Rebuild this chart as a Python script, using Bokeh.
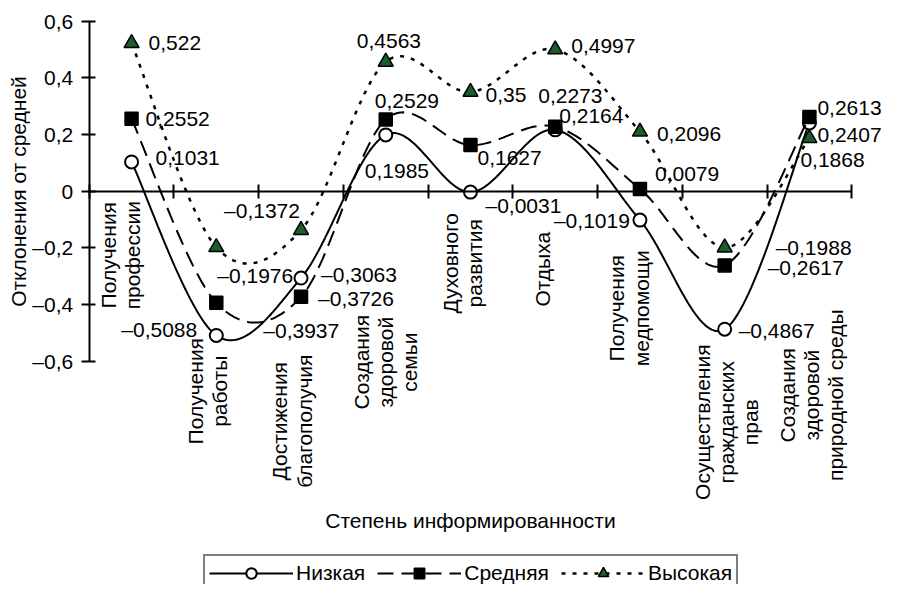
import numpy as np
from bokeh.plotting import figure
from bokeh.models import (LinearAxis, FixedTicker, CustomJSTickFormatter, Range1d,
                          Legend, LegendItem, ColumnDataSource)
from bokeh.core.properties import value
from bokeh.embed import file_html
from bokeh.resources import INLINE

# ---------------- data ----------------
categories = ["Получения\nпрофессии", "Получения\nработы", "Достижения\nблагополучия",
              "Создания\nздоровой\nсемьи", "Духовного\nразвития", "Отдыха",
              "Получения\nмедпомощи", "Осуществления\nгражданских\nправ",
              "Создания\nздоровой\nприродной среды"]
low = [0.1031, -0.5088, -0.3063, 0.1985, -0.0031, 0.2164, -0.1019, -0.4867, 0.2407]
mid = [0.2552, -0.3937, -0.3726, 0.2529, 0.1627, 0.2273, 0.0079, -0.2617, 0.2613]
high = [0.522, -0.1976, -0.1372, 0.4563, 0.35, 0.4997, 0.2096, -0.1988, 0.1868]
series_names = ["Низкая", "Средняя", "Высокая"]
y_ticks = [-0.6, -0.4, -0.2, 0, 0.2, 0.4, 0.6]
x_title = "Степень информированности"
y_title = "Отклонения от средней"

# ---------------- layout (pixels) ----------------
W, H = 881, 584
PX_X, PX_Y = 84.73, 283.5        # pixels per data unit
OX, OY = 88.7, 190.7             # screen position of data origin
FONT = value("Liberation Sans")
FS = value("21px")

# label offsets (px) per series, per category
low_off = [(24, -4), (-95, -6), (20, -4), (-21, 36), (15, 13), (4, -14), (-86, 0), (14, 1), (8, 12)]
mid_off = [(14, 0), (47, 28), (17, 2), (-11, -19), (7, 13), (-17, -31), (15, -15), (43, 2), (8, -9)]
high_off = [(17, 0), (1, 28), (-77, -20), (-29, -21), (15, 3), (16, -4), (17, 2), (51, 0), (-9, 22)]
cat_off = [(-11, 64), (-9, 200), (-9, 230), (0, 171), (-8, 72), (-13, 78), (-11, 117), (2, 231), (2, 204)]

styles = [
    dict(dash="solid", marker="circle", fill="white", size=13, lw=2),
    dict(dash="16 8", marker="square", fill="black", size=13, lw=2),
    dict(dash="4 7", marker="triangle", fill="#1b5e2b", size=15, lw=2.5),
]


def smooth(xs, ys, n=40):
    pts = np.column_stack([xs, ys]).astype(float)
    P = np.vstack([pts[0], pts, pts[-1]])
    t = np.linspace(0, 1, n)[:, None]
    out = []
    for i in range(1, len(P) - 2):
        p0, p1, p2, p3 = P[i - 1], P[i], P[i + 1], P[i + 2]
        c1 = p1 + (p2 - p0) / 6
        c2 = p2 - (p3 - p1) / 6
        seg = (1 - t) ** 3 * p1 + 3 * (1 - t) ** 2 * t * c1 + 3 * (1 - t) * t ** 2 * c2 + t ** 3 * p2
        out.append(seg if i == 1 else seg[1:])
    arr = np.vstack(out)
    return arr[:, 0], arr[:, 1]


def fmt(v):
    return str(v).replace(".", ",").replace("-", "\u2013")


n = len(categories)
cx = [i + 0.5 for i in range(n)]

p = figure(width=W, height=H,
           x_range=Range1d(-OX / PX_X, (W - OX) / PX_X),
           y_range=Range1d(-(H - OY) / PX_Y, OY / PX_Y),
           output_backend="svg", toolbar_location=None,
           x_axis_location=None, y_axis_location=None,
           min_border=0, outline_line_color=None)
p.grid.visible = False

# axes
yax = LinearAxis(fixed_location=0, bounds=(-0.6, 0.6), ticker=FixedTicker(ticks=y_ticks),
                 formatter=CustomJSTickFormatter(code="""
                    if (Math.abs(tick) < 1e-9) return '0';
                    return tick.toFixed(1).replace('.', ',').replace('-', '\u2013');"""),
                 axis_label=y_title, axis_label_text_font="Liberation Sans",
                 axis_label_text_font_size="21px", axis_label_text_font_style="normal",
                 axis_label_text_color="black", axis_label_standoff=0,
                 major_label_text_font="Liberation Sans", major_label_text_font_size="21px",
                 major_label_text_color="black", major_label_standoff=8,
                 major_tick_in=6, major_tick_out=8, minor_tick_line_color=None,
                 axis_line_width=2, major_tick_line_width=2,
                 axis_line_color="black", major_tick_line_color="black")
p.add_layout(yax, "left")

xax = LinearAxis(fixed_location=0, bounds=(0, n), ticker=FixedTicker(ticks=list(range(n + 1))),
                 formatter=CustomJSTickFormatter(code="return '';"),
                 major_tick_in=7, major_tick_out=7, minor_tick_line_color=None,
                 axis_line_width=2, major_tick_line_width=2,
                 axis_line_color="black", major_tick_line_color="black")
p.add_layout(xax, "below")

items = []
for name, vals, st in zip(series_names, [low, mid, high], styles):
    sx, sy = smooth(cx, vals)
    lr = p.line(sx, sy, line_color="black", line_width=st["lw"], line_dash=st["dash"])
    sr = p.scatter(cx, vals, marker=st["marker"], size=st["size"], fill_color=st["fill"],
                   line_color="black", line_width=1.5 if st["marker"] != "circle" else 2)
    items.append(LegendItem(label=name, renderers=[lr, sr]))

for vals, offs in zip([low, mid, high], [low_off, mid_off, high_off]):
    src = ColumnDataSource(dict(x=cx, y=vals, t=[fmt(v) for v in vals],
                                dx=[o[0] for o in offs], dy=[o[1] for o in offs]))
    p.text(x="x", y="y", text="t", x_offset="dx", y_offset="dy", source=src,
           text_align="left", text_baseline="middle", text_font=FONT,
           text_font_size=FS, text_color="black")

# category labels
csrc = ColumnDataSource(dict(x=cx, y=[0] * n, t=categories,
                             dx=[o[0] for o in cat_off], dy=[o[1] for o in cat_off]))
p.text(x="x", y="y", text="t", x_offset="dx", y_offset="dy", source=csrc, angle=np.pi / 2,
       text_align="center", text_baseline="middle", text_font=FONT, text_font_size=FS,
       text_line_height=1.05, text_color="black")

# x title
p.text(x=[n / 2], y=[0], text=[x_title], y_offset=[329], text_align="center",
       text_baseline="middle", text_font=FONT, text_font_size=FS, text_color="black")

legend = Legend(items=items, orientation="horizontal", location=(203, -8),
                border_line_color="black", border_line_width=2, padding=4, margin=0,
                glyph_width=84, glyph_height=26, label_standoff=3, spacing=12,
                label_text_font="Liberation Sans", label_text_font_size="21px",
                label_text_color="black", background_fill_alpha=1)
p.add_layout(legend)

open("out.html", "w").write(file_html(p, INLINE))
